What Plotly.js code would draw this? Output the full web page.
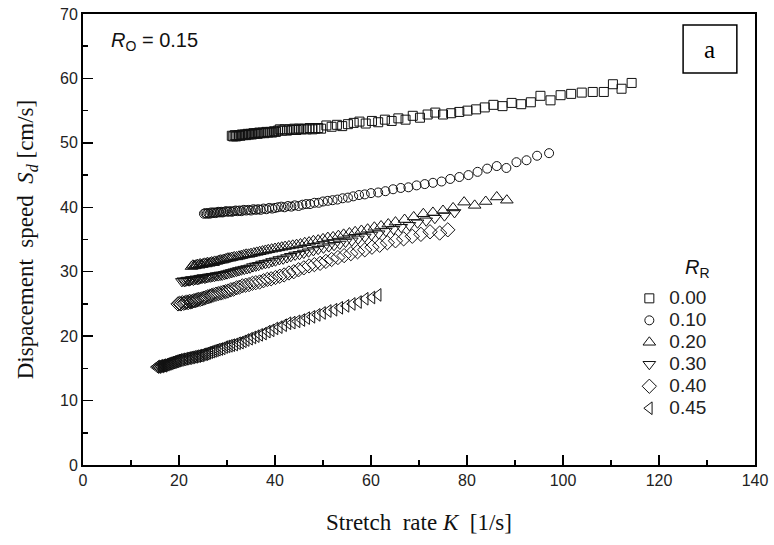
<!DOCTYPE html>
<html>
<head>
<meta charset="utf-8">
<script src="https://cdn.plot.ly/plotly-3.0.1.min.js"></script>
<style>html,body{margin:0;padding:0;background:#fff;}#chart{width:774px;height:545px;}</style>
</head>
<body>
<div id="chart"></div>
<script>
// Series labels (R_R values)
const seriesNames = ["0.00", "0.10", "0.20", "0.30", "0.40", "0.45"];

// Each series: [stretch rate K (1/s), displacement speed Sd (cm/s)]
// R_R = 0.00 (squares)
const rr000 = [[31.0,51.1],[31.3,51.0],[31.6,51.2],[31.9,51.0],[32.2,51.1],[32.5,51.2],[32.8,51.1],[33.1,51.3],[33.4,51.2],[33.7,51.3],[34.0,51.2],[34.3,51.4],[34.6,51.3],[34.9,51.4],[35.2,51.3],[35.5,51.5],[35.8,51.4],[36.1,51.5],[36.4,51.4],[36.7,51.6],[37.0,51.5],[37.4,51.6],[37.8,51.5],[38.2,51.7],[38.6,51.6],[39.0,51.7],[39.4,51.6],[39.8,51.8],[40.2,51.7],[40.6,51.9],[41.0,52.1],[41.5,51.9],[42.0,52.1],[42.5,51.9],[43.0,52.1],[43.5,52.0],[44.0,52.2],[44.5,52.0],[45.0,52.2],[45.5,52.1],[46.0,52.2],[46.6,52.1],[47.2,52.3],[47.8,52.1],[48.4,52.2],[49.0,52.3],[49.6,52.2],[50.7,52.7],[51.8,52.5],[52.9,52.8],[54.0,52.6],[55.2,52.9],[56.4,53.1],[57.6,53.3],[58.9,53.0],[60.2,53.4],[61.5,53.2],[62.9,53.6],[64.3,53.4],[65.7,53.8],[67.2,53.6],[68.7,54.2],[70.2,53.9],[71.8,54.4],[73.4,54.7],[75.0,54.4],[76.7,54.6],[78.4,54.8],[80.1,55.0],[81.9,55.2],[83.7,55.5],[85.5,55.9],[87.4,55.7],[89.3,56.2],[91.3,56.0],[93.3,56.3],[95.3,57.3],[97.4,56.6],[99.5,57.4],[101.7,57.6],[103.9,57.8],[106.2,57.9],[108.5,57.9],[110.4,59.1],[112.2,58.4],[114.3,59.3]];

// R_R = 0.10 (circles)
const rr010 = [[25.2,39.0],[25.5,39.1],[25.8,39.0],[26.1,39.1],[26.4,39.0],[26.7,39.2],[27.0,39.1],[27.3,39.2],[27.6,39.1],[27.9,39.2],[28.2,39.3],[28.5,39.2],[28.8,39.3],[29.1,39.2],[29.4,39.3],[29.8,39.4],[30.2,39.3],[30.6,39.4],[31.0,39.3],[31.4,39.4],[31.8,39.5],[32.2,39.4],[32.6,39.5],[33.0,39.4],[33.5,39.6],[34.0,39.5],[34.5,39.6],[35.0,39.5],[35.5,39.7],[36.0,39.6],[36.5,39.7],[37.0,39.6],[37.6,39.8],[38.2,39.7],[38.8,39.9],[39.4,39.8],[40.0,39.9],[40.6,40.0],[41.3,40.1],[42.0,40.0],[42.7,40.2],[43.4,40.1],[44.1,40.3],[44.9,40.2],[45.7,40.4],[46.5,40.5],[47.3,40.5],[48.2,40.7],[49.1,40.7],[50.0,40.9],[51.0,41.0],[52.0,41.1],[53.0,41.2],[54.1,41.4],[55.2,41.5],[56.3,41.7],[57.5,41.9],[58.7,42.0],[60.0,42.2],[61.5,42.3],[63.0,42.5],[64.6,42.8],[66.2,43.0],[67.8,43.1],[69.5,43.4],[71.2,43.6],[72.9,43.8],[74.7,44.0],[76.5,44.4],[78.4,44.7],[80.3,45.0],[82.2,45.5],[84.2,46.0],[86.2,46.4],[88.2,46.1],[90.3,47.0],[92.4,47.3],[94.6,48.0],[97.1,48.4]];

// R_R = 0.20 (triangles up)
const rr020 = [[22.6,30.8],[22.9,31.0],[23.2,30.9],[23.5,31.0],[23.8,31.1],[24.1,31.0],[24.4,31.2],[24.7,31.1],[25.0,31.2],[25.3,31.3],[25.6,31.2],[25.9,31.4],[26.2,31.3],[26.5,31.4],[26.8,31.5],[27.1,31.4],[27.4,31.6],[27.8,31.6],[28.2,31.7],[28.6,31.8],[29.0,31.8],[29.4,31.9],[29.8,32.0],[30.2,32.1],[30.6,32.1],[31.0,32.2],[31.5,32.3],[32.0,32.3],[32.5,32.4],[33.0,32.5],[33.5,32.6],[34.0,32.7],[34.5,32.7],[35.0,32.8],[35.6,32.9],[36.2,33.0],[36.8,33.1],[37.4,33.2],[38.0,33.3],[38.6,33.4],[39.3,33.5],[40.0,33.6],[40.7,33.7],[41.4,33.8],[42.1,33.9],[42.9,34.0],[43.7,34.1],[44.5,34.2],[45.3,34.3],[46.2,34.5],[47.1,34.6],[48.0,34.8],[49.0,34.9],[50.0,35.1],[51.0,35.3],[52.1,35.4],[53.2,35.6],[54.3,35.8],[55.5,36.0],[56.7,36.2],[58.0,36.4],[59.3,36.6],[60.7,36.9],[62.1,37.1],[63.6,37.4],[65.1,37.7],[67.0,38.1],[68.9,38.5],[70.9,39.0],[72.9,39.2],[75.0,39.5],[77.1,39.9],[79.4,40.8],[81.6,40.3],[83.9,40.9],[86.2,41.6],[88.3,41.1]];

// R_R = 0.30 (triangles down)
const rr030 = [[20.6,28.5],[20.9,28.6],[21.2,28.5],[21.5,28.6],[21.8,28.7],[22.1,28.6],[22.4,28.7],[22.7,28.8],[23.0,28.7],[23.3,28.8],[23.6,28.9],[23.9,28.8],[24.2,28.9],[24.5,29.0],[24.8,29.0],[25.1,29.1],[25.4,29.0],[25.8,29.1],[26.2,29.2],[26.6,29.2],[27.0,29.3],[27.4,29.3],[27.8,29.4],[28.2,29.4],[28.6,29.5],[29.0,29.5],[29.5,29.6],[30.0,29.7],[30.5,29.8],[31.0,29.9],[31.5,30.0],[32.0,30.1],[32.5,30.2],[33.0,30.3],[33.6,30.4],[34.2,30.5],[34.8,30.6],[35.4,30.8],[36.0,30.9],[36.6,31.0],[37.3,31.2],[38.0,31.3],[38.7,31.4],[39.4,31.6],[40.1,31.7],[40.9,31.9],[41.7,32.0],[42.5,32.2],[43.3,32.4],[44.2,32.6],[45.1,32.7],[46.0,32.9],[47.0,33.1],[48.0,33.3],[49.0,33.5],[50.1,33.7],[51.2,33.9],[52.3,34.1],[53.5,34.3],[54.7,34.6],[56.0,34.8],[57.3,35.1],[58.7,35.4],[60.1,35.7],[61.6,35.9],[63.1,36.3],[64.7,36.6],[66.3,36.9],[68.0,37.2],[69.7,37.6],[71.5,37.9],[73.3,38.3],[75.3,38.7],[77.4,39.2]];

// R_R = 0.40 (diamonds)
const rr040 = [[19.8,25.0],[20.1,25.1],[20.4,25.0],[20.7,25.2],[21.0,25.1],[21.3,25.2],[21.6,25.3],[21.9,25.2],[22.2,25.4],[22.5,25.3],[22.8,25.4],[23.1,25.5],[23.4,25.5],[23.7,25.6],[24.0,25.7],[24.4,25.7],[24.8,25.8],[25.2,25.9],[25.6,26.0],[26.0,26.1],[26.4,26.2],[26.8,26.3],[27.2,26.4],[27.7,26.5],[28.2,26.6],[28.7,26.7],[29.2,26.8],[29.7,26.9],[30.2,27.0],[30.8,27.2],[31.4,27.3],[32.0,27.5],[32.6,27.6],[33.2,27.8],[33.9,27.9],[34.6,28.0],[35.3,28.2],[36.0,28.3],[36.8,28.4],[37.6,28.6],[38.4,28.8],[39.2,28.9],[40.1,29.1],[41.0,29.3],[41.9,29.5],[42.9,29.8],[43.9,30.0],[44.9,30.3],[46.0,30.6],[47.1,30.9],[48.2,31.1],[49.4,31.3],[50.6,31.6],[51.8,31.9],[53.1,32.2],[54.4,32.5],[55.8,32.8],[57.2,33.1],[58.7,33.4],[60.2,33.8],[61.8,34.1],[63.4,34.5],[65.1,34.8],[66.8,35.1],[68.6,35.5],[70.4,35.8],[72.3,36.2],[74.3,36.0],[76.0,36.5]];

// R_R = 0.45 (triangles left)
const rr045 = [[15.2,15.2],[15.4,15.3],[15.6,15.2],[15.8,15.3],[16.0,15.4],[16.2,15.3],[16.4,15.4],[16.6,15.5],[16.8,15.4],[17.0,15.5],[17.2,15.6],[17.4,15.6],[17.6,15.7],[17.8,15.7],[18.0,15.8],[18.2,15.8],[18.4,15.9],[18.6,15.9],[18.8,16.0],[19.0,16.0],[19.2,16.1],[19.4,16.1],[19.6,16.2],[19.8,16.2],[20.0,16.3],[20.3,16.3],[20.6,16.4],[20.9,16.4],[21.2,16.5],[21.5,16.5],[21.8,16.6],[22.1,16.6],[22.4,16.7],[22.7,16.7],[23.0,16.8],[23.3,16.8],[23.6,16.9],[23.9,16.9],[24.2,17.0],[24.5,17.0],[24.8,17.1],[25.1,17.2],[25.4,17.2],[25.7,17.3],[26.0,17.4],[26.4,17.5],[26.8,17.6],[27.2,17.7],[27.6,17.8],[28.0,17.9],[28.5,18.0],[29.0,18.1],[29.5,18.3],[30.0,18.4],[30.5,18.5],[31.0,18.6],[31.6,18.7],[32.2,18.9],[32.8,19.0],[33.4,19.2],[34.0,19.4],[34.7,19.6],[35.4,19.8],[36.1,20.0],[36.8,20.2],[37.6,20.4],[38.4,20.7],[39.2,20.9],[40.0,21.2],[40.9,21.4],[41.8,21.7],[42.7,22.0],[43.6,22.1],[44.6,22.3],[45.6,22.5],[46.6,22.8],[47.7,23.0],[48.8,23.3],[49.9,23.6],[51.1,23.9],[52.3,24.1],[53.5,24.4],[54.8,24.7],[56.1,25.0],[57.4,25.3],[58.8,25.8],[60.2,26.0],[61.5,26.4]];

const seriesData = [rr000, rr010, rr020, rr030, rr040, rr045];
const symbols = ["square-open", "circle-open", "triangle-up-open", "triangle-down-open", "diamond-open", "triangle-left-open"];
const sizes = [9, 9, 11, 11, 11, 11];

const traces = seriesNames.map((name, i) => ({
  type: "scatter",
  mode: "markers",
  name: '<span style="font-size:19px">' + name + '</span>',
  x: seriesData[i].map(p => p[0]),
  y: seriesData[i].map(p => p[1]),
  marker: {symbol: symbols[i], size: sizes[i], color: "#111", line: {width: 1, color: "#111"}},
  showlegend: true
}));

const axisCommon = {
  showline: true, linecolor: "#000", linewidth: 2, mirror: true,
  ticks: "inside", ticklen: 10, tickwidth: 1.5, tickcolor: "#000",
  showgrid: false, zeroline: false,
  tickfont: {family: "Liberation Sans, Arial, sans-serif", size: 16, color: "#222"}
};

const layout = {
  width: 774, height: 545,
  margin: {l: 83, r: 19, t: 14, b: 80},
  paper_bgcolor: "#fff", plot_bgcolor: "#fff",
  showlegend: true,
  xaxis: Object.assign({}, axisCommon, {
    range: [0, 140], dtick: 20, tick0: 0,
    minor: {ticks: "inside", ticklen: 5, tickwidth: 1.5, dtick: 10, tickcolor: "#000"},
    title: {text: "Stretch  rate <i>K</i>  [1/s]", font: {family: "Liberation Serif, Times New Roman, serif", size: 23, color: "#111"}, standoff: 26}
  }),
  yaxis: Object.assign({}, axisCommon, {
    range: [0, 70], dtick: 10, tick0: 0,
    minor: {ticks: "inside", ticklen: 5, tickwidth: 1.5, dtick: 5, tickcolor: "#000"},
    title: {text: "Dispacement  speed  <i>S<sub>d</sub></i> [cm/s]", font: {family: "Liberation Serif, Times New Roman, serif", size: 23, color: "#111"}, standoff: 20}
  }),
  legend: {
    x: 0.813, xanchor: "left", y: 0.405, yanchor: "top",
    bgcolor: "rgba(0,0,0,0)", borderwidth: 0,
    font: {family: "Liberation Sans, Arial, sans-serif", size: 14.6, color: "#222"},
    tracegroupgap: 0
  },
  shapes: [{type: "rect", xref: "paper", yref: "paper", x0: 0.893, x1: 0.973, y0: 0.869, y1: 0.9756, line: {color: "#000", width: 1.5}}],
  annotations: [
    {xref: "paper", yref: "paper", x: 0.933, y: 0.922, text: "a", showarrow: false,
     font: {family: "Liberation Serif, Times New Roman, serif", size: 25, color: "#000"}, xanchor: "center", yanchor: "middle"},
    {xref: "paper", yref: "paper", x: 0.038, y: 0.938, text: "<i>R</i><sub>O</sub> = 0.15", showarrow: false,
     font: {family: "Liberation Sans, Arial, sans-serif", size: 20, color: "#111"}, xanchor: "left", yanchor: "middle"},
    {xref: "paper", yref: "paper", x: 0.914, y: 0.435, text: "<i>R</i><sub>R</sub>", showarrow: false,
     font: {family: "Liberation Sans, Arial, sans-serif", size: 20, color: "#111"}, xanchor: "center", yanchor: "middle"}
  ]
};

Plotly.newPlot("chart", traces, layout, {staticPlot: true, displayModeBar: false});
</script>
</body>
</html>
